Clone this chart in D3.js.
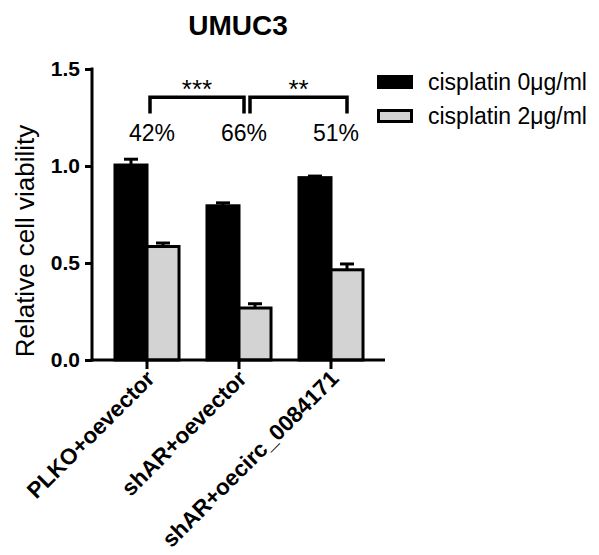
<!DOCTYPE html>
<html><head><meta charset="utf-8">
<script src="https://cdn.jsdelivr.net/npm/d3@7"></script>
<style>body{margin:0;background:#fff}svg{display:block}text{font-family:"Liberation Sans",Arial,sans-serif}</style>
</head><body><svg id="c" width="599" height="555"></svg>
<script>
const categories = ["PLKO+oevector", "shAR+oevector", "shAR+oecirc_0084171"];
const seriesNames = ["cisplatin 0\u03bcg/ml", "cisplatin 2\u03bcg/ml"];
const seriesColors = ["#000000", "#d3d3d3"];
const values0 = [1.005, 0.795, 0.94];
const errors0 = [0.03, 0.015, 0.008];
const values2 = [0.585, 0.268, 0.465];
const errors2 = [0.018, 0.022, 0.03];
const percents = ["42%", "66%", "51%"];
const yTicks = [0.0, 0.5, 1.0, 1.5];
const brackets = [{from: 0, to: 1, label: "***"}, {from: 1, to: 2, label: "**"}];

const svg = d3.select("#c");
const x0 = 92, yTop = 69, yBot = 360, xEnd = 385;
const y = d3.scaleLinear().domain([0, 1.5]).range([yBot, yTop]);
const x = d3.scaleBand().domain(categories).range([101, 377]).paddingInner(0.304).paddingOuter(0.152);
const xs = d3.scaleBand().domain([0, 1]).range([0, x.bandwidth()]);
const center = c => x(c) + x.bandwidth() / 2;

const data = [];
categories.forEach((c, i) => {
  data.push({c, s: 0, v: values0[i], e: errors0[i]});
  data.push({c, s: 1, v: values2[i], e: errors2[i]});
});

// error bars (behind bars)
const eb = svg.append("g").attr("stroke", "#000").attr("stroke-width", 3);
data.forEach(d => {
  const cx = x(d.c) + xs(d.s) + xs.bandwidth() / 2;
  eb.append("line").attr("x1", cx).attr("x2", cx).attr("y1", y(d.v)).attr("y2", y(d.v + d.e));
  eb.append("line").attr("x1", cx - 7).attr("x2", cx + 7).attr("y1", y(d.v + d.e)).attr("y2", y(d.v + d.e));
});

// bars
svg.append("g").selectAll("rect").data(data).join("rect")
  .attr("x", d => x(d.c) + xs(d.s))
  .attr("y", d => y(d.v))
  .attr("width", xs.bandwidth())
  .attr("height", d => y(0) - y(d.v))
  .attr("fill", d => seriesColors[d.s])
  .attr("stroke", "#000").attr("stroke-width", 3);

// y axis
const yAxis = svg.append("g").attr("transform", `translate(${x0},0)`)
  .call(d3.axisLeft(y).tickValues(yTicks).tickFormat(d3.format(".1f")).tickSize(7).tickPadding(5));
yAxis.select(".domain").remove();
yAxis.append("line").attr("x1", 0).attr("x2", 0).attr("y1", yTop - 1.5).attr("y2", yBot + 1.5).attr("stroke", "#000").attr("stroke-width", 3);
yAxis.selectAll(".tick line").attr("stroke-width", 3);
yAxis.selectAll(".tick text").attr("font-size", 21).attr("font-weight", "bold").attr("fill", "#000")
  .attr("font-family", "Liberation Sans, Arial, sans-serif");

// x axis
const xAxis = svg.append("g").attr("transform", `translate(0,${yBot})`)
  .call(d3.axisBottom(x).tickSize(9).tickFormat(""));
xAxis.select(".domain").remove();
xAxis.append("line").attr("x1", x0 - 1.5).attr("x2", xEnd).attr("y1", 0).attr("y2", 0).attr("stroke", "#000").attr("stroke-width", 3);
xAxis.selectAll(".tick line").attr("stroke-width", 3);
xAxis.selectAll(".tick").append("text")
  .attr("transform", "translate(9,20) rotate(-45)")
  .attr("text-anchor", "end")
  .attr("font-size", 22.5).attr("font-weight", "bold").attr("fill", "#000")
  .text(d => d);

// y label
svg.append("text").attr("transform", "translate(34,241) rotate(-90)")
  .attr("text-anchor", "middle").attr("font-size", 26).text("Relative cell viability");

// title
svg.append("text").attr("x", 238).attr("y", 35).attr("text-anchor", "middle")
  .attr("font-size", 28).attr("font-weight", "bold").text("UMUC3");

// percents
svg.append("g").selectAll("text").data(categories).join("text")
  .attr("x", c => center(c) + 5).attr("y", y(1.13))
  .attr("text-anchor", "middle").attr("font-size", 23).text((c, i) => percents[i]);

// brackets
const bOff = [[3, 5], [11, 16]];
const bTop = y(1.355), bBot = y(1.27);
brackets.forEach((b, i) => {
  const xa = center(categories[b.from]) + bOff[i][0];
  const xb = center(categories[b.to]) + bOff[i][1];
  svg.append("path").attr("d", `M${xa},${bBot}V${bTop}H${xb}V${bBot}`)
    .attr("fill", "none").attr("stroke", "#000").attr("stroke-width", 3.5);
  svg.append("text").attr("x", (xa + xb) / 2).attr("y", bTop + 1)
    .attr("text-anchor", "middle").attr("font-size", 26).text(b.label);
});

// legend
const lg = svg.append("g");
seriesNames.forEach((n, i) => {
  lg.append("rect").attr("x", 378.5).attr("y", 76.5 + i * 34).attr("width", 33).attr("height", 11)
    .attr("fill", seriesColors[i]).attr("stroke", "#000").attr("stroke-width", 3);
  lg.append("text").attr("x", 428).attr("y", 90 + i * 34).attr("font-size", 23).text(n);
});
</script></body></html>
